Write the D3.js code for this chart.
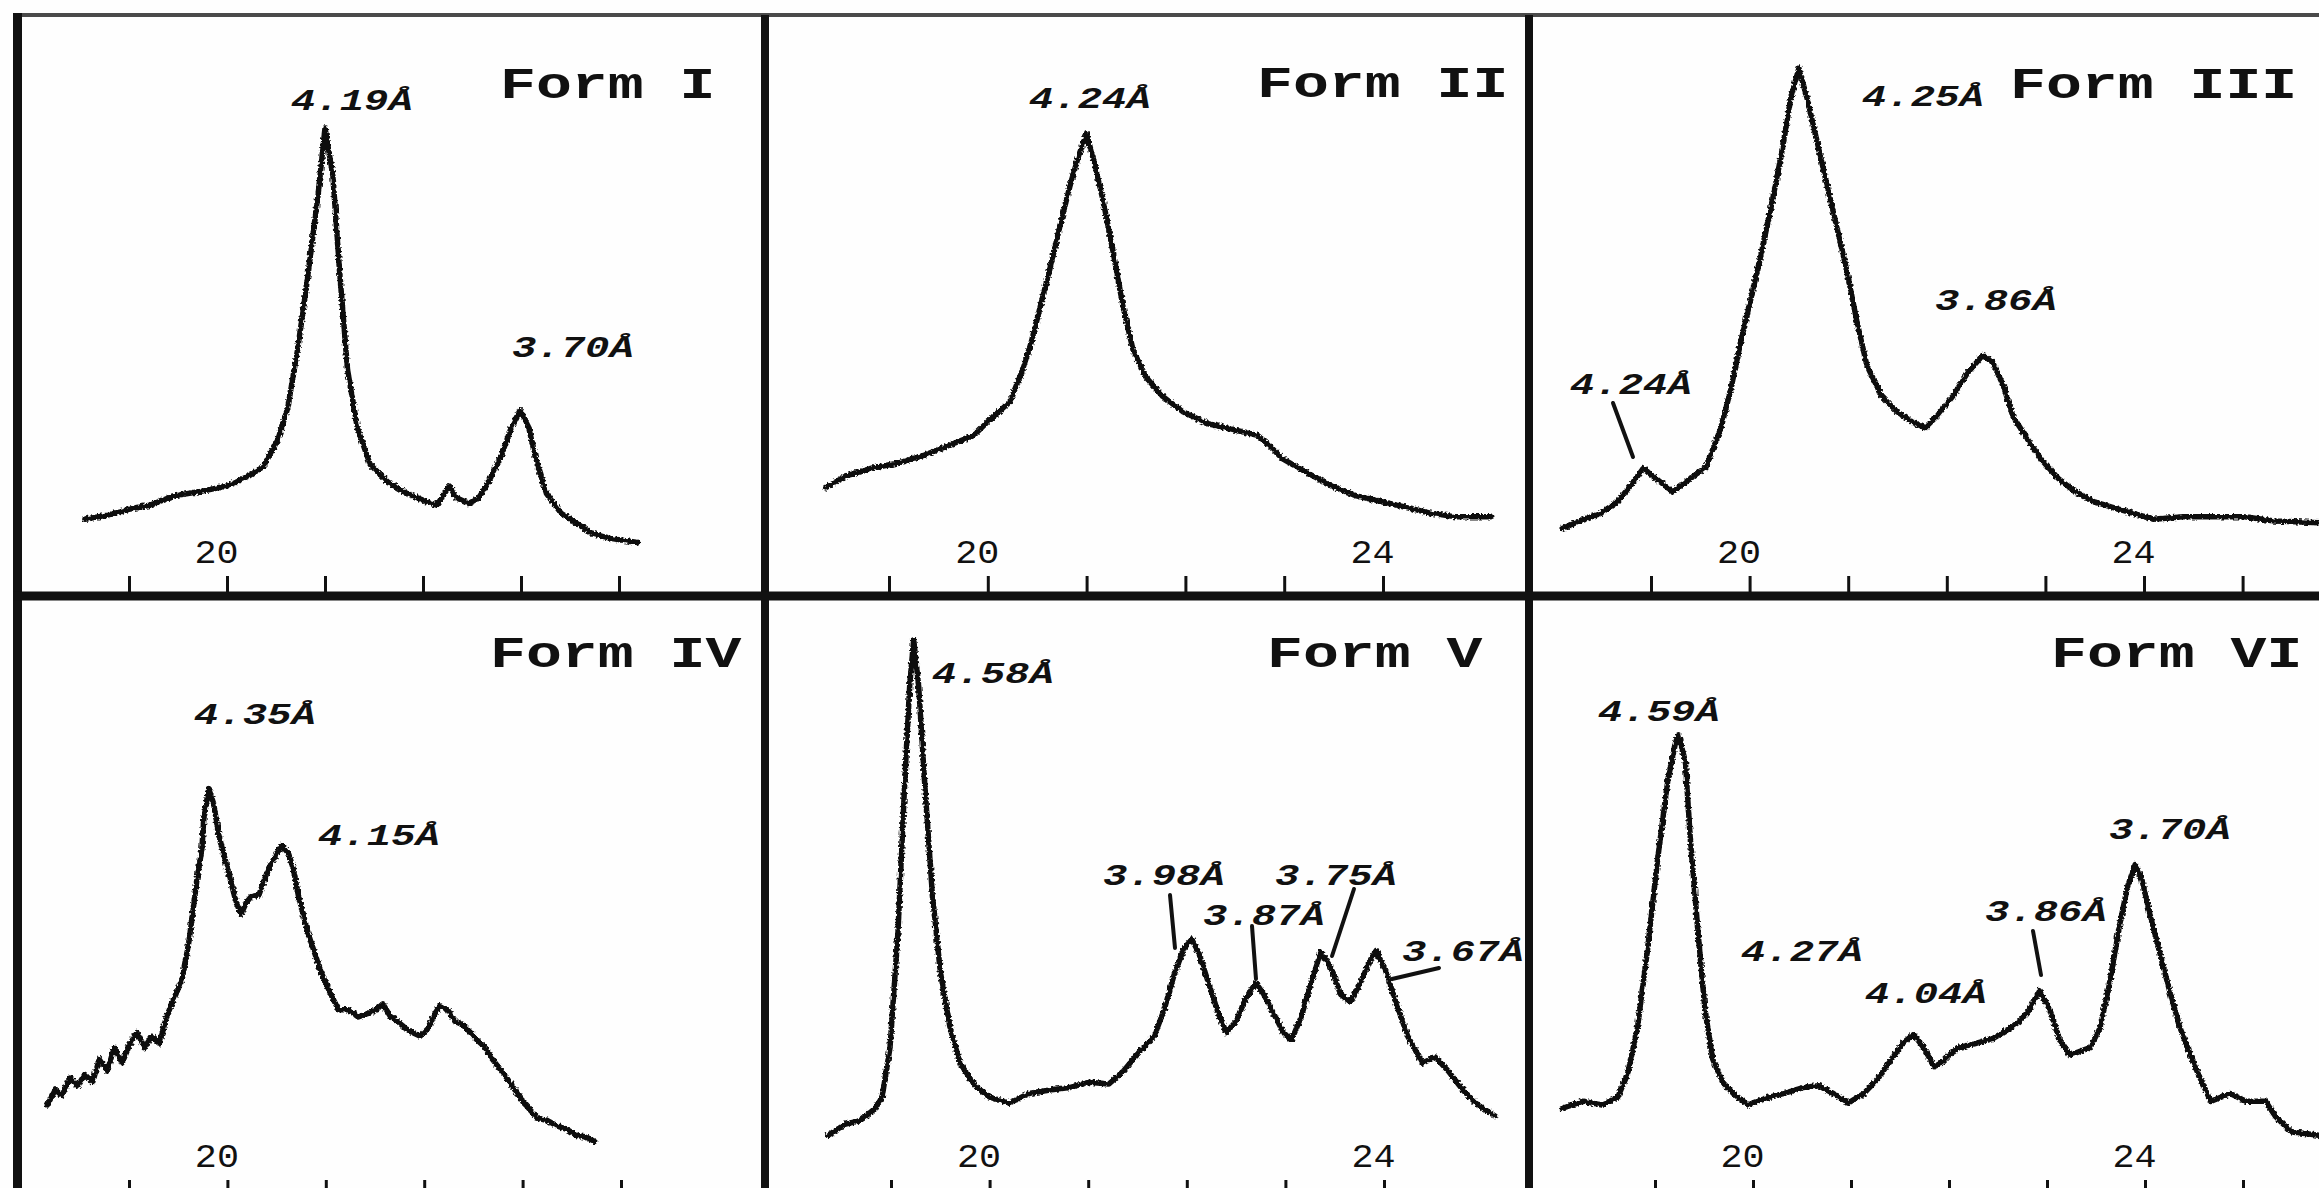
<!DOCTYPE html>
<html><head><meta charset="utf-8">
<script src="https://cdn.jsdelivr.net/npm/d3@7"></script>
<style>body{margin:0;background:#fff}svg{display:block}</style>
</head><body><svg id="c" width="2319" height="1188"></svg>
<script>
// ---------------- DATA ----------------
const formNames = ["Form I", "Form II", "Form III", "Form IV", "Form V", "Form VI"];

// [2θ (deg), intensity (arb. units)]
const formI = [[18.55,13.2],[18.78,13.9],[19.00,14.9],[19.21,15.6],[19.46,17.2],[19.71,17.9],[20.00,18.9],[20.22,20.6],[20.37,22.2],[20.52,26.9],[20.62,32.3],[20.72,42.3],[20.83,55.6],[20.93,69.0],[21.00,80.4],[21.08,72.3],[21.15,55.6],[21.23,38.9],[21.33,28.9],[21.46,22.6],[21.64,19.6],[21.84,17.6],[22.04,16.2],[22.14,15.6],[22.27,18.9],[22.34,16.9],[22.47,15.9],[22.57,16.9],[22.67,19.6],[22.80,24.2],[22.90,28.9],[22.99,31.9],[23.08,28.9],[23.15,23.6],[23.26,17.6],[23.41,14.2],[23.56,12.6],[23.71,10.9],[23.91,9.9],[24.19,9.2]];

const formII = [[18.36,18.6],[18.56,20.6],[18.81,21.9],[19.11,22.9],[19.36,24.2],[19.61,25.9],[19.86,27.6],[20.02,30.3],[20.22,33.3],[20.34,38.3],[20.44,43.6],[20.54,50.3],[20.64,57.0],[20.74,64.3],[20.84,71.0],[20.92,75.7],[21.00,79.4],[21.07,75.0],[21.17,67.7],[21.27,59.0],[21.37,49.6],[21.47,42.3],[21.60,37.6],[21.77,34.3],[21.98,31.6],[22.23,29.6],[22.48,28.6],[22.73,27.6],[22.83,26.2],[22.98,23.6],[23.23,21.2],[23.48,18.9],[23.73,17.2],[23.99,16.2],[24.24,15.2],[24.49,14.2],[24.74,13.6],[25.09,13.6]];

const formIII = [[18.10,11.6],[18.28,12.9],[18.49,14.2],[18.66,16.2],[18.79,18.9],[18.92,21.9],[19.05,20.2],[19.22,17.9],[19.40,20.2],[19.56,22.2],[19.71,28.9],[19.81,35.6],[19.91,43.6],[20.02,51.6],[20.12,59.0],[20.22,67.0],[20.32,75.7],[20.42,85.7],[20.50,90.7],[20.58,85.7],[20.68,78.4],[20.78,71.0],[20.88,63.7],[20.99,55.6],[21.09,47.0],[21.19,39.6],[21.34,34.3],[21.50,31.6],[21.65,29.9],[21.78,28.9],[21.90,30.9],[22.06,34.3],[22.21,38.3],[22.36,41.3],[22.46,40.3],[22.57,36.3],[22.67,30.9],[22.82,26.9],[22.97,23.2],[23.13,20.2],[23.28,18.2],[23.49,16.2],[23.69,15.2],[23.89,14.2],[24.10,13.2],[24.40,13.6],[24.71,13.6],[25.02,13.6],[25.32,12.9],[25.77,12.6]];

const formIV = [[18.17,14.9],[18.25,17.4],[18.32,16.5],[18.40,19.4],[18.48,18.1],[18.55,20.0],[18.63,18.7],[18.70,22.6],[18.78,20.6],[18.85,24.5],[18.93,21.9],[19.01,25.1],[19.08,27.0],[19.16,24.5],[19.23,26.4],[19.31,25.1],[19.38,29.6],[19.46,32.8],[19.54,35.9],[19.61,42.3],[19.69,52.5],[19.74,57.6],[19.76,62.7],[19.81,67.8],[19.86,65.3],[19.91,60.2],[20.02,53.2],[20.09,48.7],[20.14,46.8],[20.19,48.7],[20.24,49.7],[20.32,50.0],[20.39,53.2],[20.44,55.1],[20.55,58.3],[20.62,57.0],[20.67,54.4],[20.72,50.0],[20.82,43.6],[20.95,37.2],[21.05,33.4],[21.13,30.8],[21.23,30.8],[21.33,29.6],[21.43,30.2],[21.51,30.8],[21.58,31.8],[21.66,29.6],[21.73,28.9],[21.81,27.7],[21.88,27.0],[21.96,26.4],[22.04,27.7],[22.11,30.2],[22.16,31.5],[22.24,30.8],[22.31,28.9],[22.39,28.3],[22.47,27.0],[22.54,25.7],[22.62,24.5],[22.69,22.6],[22.84,19.4],[23.00,15.5],[23.15,12.7],[23.25,12.3],[23.35,11.4],[23.45,10.8],[23.55,9.8],[23.65,9.5],[23.73,8.8]];

const formV = [[18.36,9.8],[18.54,11.7],[18.69,12.3],[18.84,14.3],[18.91,16.2],[18.99,24.5],[19.07,43.6],[19.14,69.1],[19.19,85.1],[19.23,92.7],[19.28,85.1],[19.34,69.1],[19.42,50.0],[19.50,37.2],[19.60,27.7],[19.70,21.9],[19.85,18.1],[20.00,16.2],[20.20,15.2],[20.40,16.8],[20.61,17.4],[20.81,17.8],[21.01,18.7],[21.21,18.4],[21.36,20.6],[21.52,23.8],[21.67,26.4],[21.77,30.8],[21.87,36.6],[21.97,41.0],[22.05,42.6],[22.12,40.4],[22.22,35.3],[22.32,30.2],[22.40,27.0],[22.50,28.9],[22.60,32.8],[22.70,35.3],[22.78,33.4],[22.88,30.2],[22.98,27.0],[23.06,25.7],[23.16,29.6],[23.26,35.3],[23.36,40.4],[23.46,37.9],[23.56,33.4],[23.66,32.1],[23.76,35.3],[23.86,39.1],[23.92,40.7],[24.02,37.2],[24.12,32.1],[24.24,26.4],[24.39,21.9],[24.52,22.9],[24.65,20.6],[24.80,17.4],[24.95,14.9],[25.13,13.0]];

const formVI = [[18.05,14.3],[18.26,15.5],[18.46,14.9],[18.62,16.2],[18.72,20.0],[18.82,27.7],[18.92,40.4],[19.03,56.4],[19.13,69.1],[19.21,75.5],[19.24,76.8],[19.31,72.3],[19.36,59.5],[19.44,43.6],[19.51,30.8],[19.59,22.5],[19.69,18.7],[19.80,16.8],[19.95,14.9],[20.10,15.9],[20.31,16.8],[20.51,17.8],[20.67,18.1],[20.82,16.8],[20.97,15.2],[21.13,16.8],[21.28,19.4],[21.44,23.2],[21.54,25.4],[21.64,26.7],[21.74,24.5],[21.85,21.3],[21.92,21.9],[22.00,23.2],[22.10,24.5],[22.26,25.1],[22.46,26.1],[22.62,27.7],[22.72,28.9],[22.82,30.8],[22.92,34.0],[23.03,30.8],[23.13,25.7],[23.23,23.2],[23.33,23.8],[23.44,24.5],[23.54,27.7],[23.64,35.3],[23.74,44.9],[23.82,51.3],[23.90,55.1],[23.97,52.5],[24.05,46.8],[24.15,40.4],[24.26,33.4],[24.36,27.7],[24.51,21.3],[24.67,15.5],[24.87,16.8],[25.03,15.5],[25.23,15.5],[25.33,13.0],[25.49,10.4],[25.79,9.8]];

const peaksI   = ["4.19Å", "3.70Å"];
const peaksII  = ["4.24Å"];
const peaksIII = ["4.25Å", "3.86Å", "4.24Å"];
const peaksIV  = ["4.35Å", "4.15Å"];
const peaksV   = ["4.58Å", "3.98Å", "3.87Å", "3.75Å", "3.67Å"];
const peaksVI  = ["4.59Å", "4.27Å", "4.04Å", "3.86Å", "3.70Å"];

const ticksNarrow  = [19, 20, 21, 22, 23, 24];
const ticksWide    = [19, 20, 21, 22, 23, 24, 25];
const labelsLeft   = [20];
const labelsOther  = [20, 24];

// ---------------- LAYOUT ----------------
const W = 2319, H = 1188;
const FONT = '"Courier New","Liberation Mono","DejaVu Sans Mono",monospace';
const INK = "#111";

const rows = [
  {axisY: 596, topY: 14, domain: [0, 100]},
  {axisY: 1200, topY: 596, domain: [-1, 100]}
];

const panels = [
  {data: formI,   peaks: peaksI,   ticks: ticksNarrow, labels: labelsLeft,  row: 0, x19: 129,  x24: 619,
   title: [500, 98],  peakPos: [[291,110],[512,357]], leaders: []},
  {data: formII,  peaks: peaksII,  ticks: ticksNarrow, labels: labelsOther, row: 0, x19: 889,  x24: 1383,
   title: [1257, 97], peakPos: [[1029,108]], leaders: []},
  {data: formIII, peaks: peaksIII, ticks: ticksWide,   labels: labelsOther, row: 0, x19: 1651, x24: 2144,
   title: [2010, 98], peakPos: [[1862,106],[1935,310],[1570,394]], leaders: [[1613,403,1633,457]]},
  {data: formIV,  peaks: peaksIV,  ticks: ticksNarrow, labels: labelsLeft,  row: 1, x19: 129,  x24: 621,
   title: [490, 667], peakPos: [[194,724],[318,845]], leaders: []},
  {data: formV,   peaks: peaksV,   ticks: ticksNarrow, labels: labelsOther, row: 1, x19: 891,  x24: 1384,
   title: [1267, 667], peakPos: [[932,683],[1103,885],[1203,925],[1275,885],[1402,961]],
   leaders: [[1170,895,1175,948],[1252,926,1256,979],[1354,889,1332,956],[1439,968,1392,979]]},
  {data: formVI,  peaks: peaksVI,  ticks: ticksWide,   labels: labelsOther, row: 1, x19: 1655, x24: 2145,
   title: [2051, 667], peakPos: [[1598,721],[1741,961],[1865,1003],[1985,921],[2109,839]],
   leaders: [[2033,931,2041,975]]}
];

const svg = d3.select("#c");
svg.append("rect").attr("width", W).attr("height", H).attr("fill", "#fefefe");

// scan-like roughness for the traces (rendering effect only)
const defs = svg.append("defs");
const flt = defs.append("filter").attr("id", "rough")
  .attr("x", "-2%").attr("y", "-2%").attr("width", "104%").attr("height", "104%");
flt.append("feTurbulence").attr("type", "fractalNoise").attr("baseFrequency", "0.45")
  .attr("numOctaves", 1).attr("seed", 4).attr("result", "noise");
flt.append("feDisplacementMap").attr("in", "SourceGraphic").attr("in2", "noise")
  .attr("scale", 5).attr("xChannelSelector", "R").attr("yChannelSelector", "G");

function stretchedText(g, x, y, txt, size, sx, weight, style) {
  g.append("text")
    .attr("transform", `translate(${x},${y}) scale(${sx},1)`)
    .attr("font-family", FONT)
    .attr("font-size", size)
    .attr("font-weight", weight)
    .attr("font-style", style)
    .attr("fill", INK)
    .text(txt);
}

panels.forEach((p, i) => {
  const r = rows[p.row];
  const x = d3.scaleLinear().domain([19, 24]).range([p.x19, p.x24]);
  const y = d3.scaleLinear().domain(r.domain).range([r.axisY, r.topY]);
  const g = svg.append("g");

  // pattern trace
  g.append("path")
    .datum(p.data)
    .attr("d", d3.line().x(d => x(d[0])).y(d => y(d[1])))
    .attr("fill", "none")
    .attr("stroke", INK)
    .attr("stroke-width", 5.5)
    .attr("stroke-linejoin", "round")
    .attr("stroke-linecap", "round")
    .attr("filter", "url(#rough)");

  // axis ticks + labels
  const ax = g.append("g")
    .attr("transform", `translate(0,${r.axisY})`)
    .call(d3.axisTop(x).tickValues(p.ticks).tickSize(20).tickPadding(0)
      .tickFormat(d => p.labels.includes(d) ? String(d) : ""));
  ax.select(".domain").remove();
  ax.selectAll(".tick line").attr("stroke", INK).attr("stroke-width", 3);
  ax.selectAll(".tick text")
    .attr("y", 0).attr("dy", 0)
    .attr("transform", "translate(-11,-33) scale(1.08,1)")
    .attr("font-family", FONT).attr("font-size", 34)
    .attr("fill", INK).attr("text-anchor", "middle");

  // title
  stretchedText(g, p.title[0], p.title[1], formNames[i], 44, 1.36, "bold", "normal");

  // peak labels
  p.peaks.forEach((t, k) => {
    stretchedText(g, p.peakPos[k][0], p.peakPos[k][1], t, 29, 1.4, "bold", "italic");
  });

  // leader lines
  p.leaders.forEach(l => {
    g.append("line").attr("x1", l[0]).attr("y1", l[1]).attr("x2", l[2]).attr("y2", l[3])
      .attr("stroke", INK).attr("stroke-width", 4).attr("stroke-linecap", "round");
  });
});

// frame
const frame = svg.append("g");
frame.append("line").attr("x1", 13).attr("x2", W).attr("y1", 15).attr("y2", 15)
  .attr("stroke", "#4a4a4a").attr("stroke-width", 4);
frame.append("line").attr("x1", 17.5).attr("x2", 17.5).attr("y1", 13).attr("y2", H)
  .attr("stroke", INK).attr("stroke-width", 9);
[765, 1529].forEach(xv => {
  frame.append("line").attr("x1", xv).attr("x2", xv).attr("y1", 15).attr("y2", H)
    .attr("stroke", INK).attr("stroke-width", 8);
});
frame.append("line").attr("x1", 13).attr("x2", W).attr("y1", rows[0].axisY).attr("y2", rows[0].axisY)
  .attr("stroke", INK).attr("stroke-width", 9);
frame.append("line").attr("x1", 13).attr("x2", W).attr("y1", rows[1].axisY).attr("y2", rows[1].axisY)
  .attr("stroke", INK).attr("stroke-width", 9);
</script></body></html>
